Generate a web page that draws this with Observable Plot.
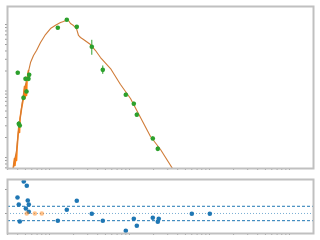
<!DOCTYPE html>
<html><head><meta charset="utf-8">
<script src="https://cdn.jsdelivr.net/npm/d3@7"></script>
<script src="https://cdn.jsdelivr.net/npm/@observablehq/plot@0.6"></script>
<style>body{margin:0;background:#fff;} svg{display:block;}</style>
</head><body><div id="c"></div>
<script>
// model light curve (time, flux)
const modelT = [0.352,0.365,0.387,0.410,0.434,0.460,0.487,0.516,0.546,0.579,0.631,0.688,0.772,0.891,1.029,1.189,1.372,1.496,1.631,1.728,1.830,1.995,2.175,2.305,2.441,2.661,3.254,3.758,4.340,5.788,7.718,10.29,13.72,18.30,24.41,34.47];
const modelF = [0.684,0.901,1.274,2.55,4.28,7.19,10.9,14.4,19.6,26.8,34.2,40.6,53.6,70.7,87.0,97.6,107.2,110.9,116.9,114.8,103.5,96.6,87.0,68.4,63.8,59.5,50.0,40.6,31.9,21.8,12.53,7.71,3.99,2.07,1.32,0.684];
// early noisy orange segment
const earlyT = [0.352,0.365,0.370,0.381,0.387,0.393,0.404,0.416,0.422,0.428,0.447,0.466,0.487,0.494,0.508,0.516,0.523,0.546];
const earlyF = [0.684,0.966,0.758,1.07,0.901,1.366,2.14,3.13,2.38,3.86,5.45,7.19,11.7,7.71,12.5,8.56,14.4,20.3];
// observations
const obsT = [0.401,0.413,0.425,0.473,0.501,0.516,0.546,0.557,1.270,1.645,2.193,3.378,4.634,8.99,11.32,12.34,19.55,22.58];
const obsF = [18.8,3.21,3.03,7.90,15.25,9.83,15.25,17.5,89.2,117.7,92.3,46.2,20.8,8.77,6.42,4.39,1.93,1.35];
const obsE = [1.0,0.25,0.25,0.5,0.9,0.6,0.9,1.0,4.0,5.0,4.0,11.7,3.0,0.5,0.4,0.3,0.12,0.1];
// residuals
const resT = [0.398,0.413,0.425,0.477,0.506,0.520,0.535,0.551,0.551,1.270,1.645,2.193,3.378,4.634,8.99,11.32,12.34,19.55,22.58,23.2,60.1,100.9];
const resV = [3.33,1.88,-1.67,6.67,1.04,5.77,2.71,1.88,0.35,-1.52,0.77,2.65,-0.06,-1.52,-3.60,-1.10,-2.56,-0.90,-1.73,-1.10,-0.06,-0.06];
const resOT = [0.520,0.655,0.801];
const resOV = [0,0,0];
const bands = [-1.5,1.5];

const xDomain = [0.2985, 1995];
const gray = "#c0c0c0";
const model = modelT.map((t,i)=>({t, f: modelF[i]}));
const early = earlyT.map((t,i)=>({t, f: earlyF[i]}));
const obs = obsT.map((t,i)=>({t, f: obsF[i], lo: obsF[i]-obsE[i], hi: obsF[i]+obsE[i]}));
const res = resT.map((t,i)=>({t, r: resV[i]}));
const resO = resOT.map((t,i)=>({t, r: resOV[i]}));

const topPlot = Plot.plot({
  width: 320, height: 172,
  marginLeft: 7, marginRight: 7, marginTop: 6, marginBottom: 4,
  x: {type: "log", domain: xDomain},
  y: {type: "log", domain: [0.684, 186.6]},
  marks: [
    Plot.axisX({anchor: "bottom", tickSize: 2, stroke: "#999", tickFormat: () => "", label: null}),
    Plot.axisY({anchor: "left", tickSize: 2, stroke: "#999", tickFormat: () => "", label: null}),
    Plot.line(early, {x: "t", y: "f", stroke: "#ff7f0e", strokeWidth: 1.6, clip: true}),
    Plot.line(model, {x: "t", y: "f", stroke: "#d07c38", strokeWidth: 1.1, clip: true}),
    Plot.ruleX(obs, {x: "t", y1: "lo", y2: "hi", stroke: "#2ca02c", strokeWidth: 1, clip: true}),
    Plot.dot(obs, {x: "t", y: "f", r: 2.3, fill: "#2ca02c", clip: true}),
    Plot.frame({stroke: gray, strokeWidth: 2})
  ]
});
const botPlot = Plot.plot({
  width: 320, height: 68,
  marginLeft: 7, marginRight: 7, marginTop: 7, marginBottom: 7,
  x: {type: "log", domain: xDomain},
  y: {domain: [-4.17, 7.08]},
  marks: [
    Plot.axisX({anchor: "bottom", tickSize: 2, stroke: "#999", tickFormat: () => "", label: null}),
    Plot.axisY({anchor: "left", ticks: [0, 5], tickSize: 2, stroke: "#999", tickFormat: () => "", label: null}),
    Plot.ruleY(bands, {stroke: "#1f77b4", strokeWidth: 1, strokeDasharray: "3,2"}),
    Plot.ruleY([0], {stroke: "#1f77b4", strokeOpacity: 0.6, strokeWidth: 1, strokeDasharray: "1,2"}),
    Plot.dot(res, {x: "t", y: "r", r: 2.3, fill: "#1f77b4", clip: true}),
    Plot.dot(resO, {x: "t", y: "r", r: 2.3, fill: "#ff7f0e", fillOpacity: 0.5, clip: true}),
    Plot.frame({stroke: gray, strokeWidth: 2})
  ]
});
document.getElementById("c").append(topPlot, botPlot);
</script></body></html>
